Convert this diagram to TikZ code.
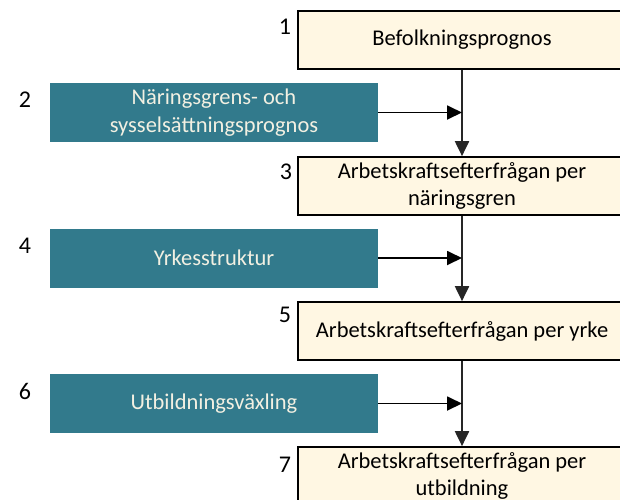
\documentclass[tikz,border=0pt]{standalone}
\usepackage{fontspec}
\setmainfont{Carlito}
\usetikzlibrary{arrows.meta}
\definecolor{teal1}{HTML}{327A8C}
\definecolor{cream}{HTML}{FFF7E3}
\definecolor{paletext}{HTML}{F2F0E2}
\begin{document}
\begin{tikzpicture}[x=1pt,y=-1pt,
  every node/.style={font=\fontsize{22.5}{27.5}\selectfont},
  creambox/.style={draw=black,line width=1.7pt,fill=cream,minimum width=328pt,minimum height=58pt,align=center,inner sep=0pt},
  tealbox/.style={fill=teal1,text=paletext,minimum width=328pt,minimum height=59pt,align=center,inner sep=0pt},
  numlabel/.style={inner sep=0pt,font=\fontsize{24}{28}\selectfont},
  flow/.style={line width=2pt,draw=black!85,-{Triangle[length=15pt,width=14pt]}},
  feed/.style={line width=1.8pt,-{Triangle[length=15pt,width=14pt]}}]
\useasboundingbox (0,0) rectangle (620,499);
\begin{scope}
\clip (0,0) rectangle (620,499);
\node[creambox] (b1) at (462,40) {Befolkningsprognos};
\node[tealbox] (b2) at (214,112.5) {Näringsgrens- och\\sysselsättningsprognos};
\node[creambox] (b3) at (462,186) {Arbetskraftsefterfrågan per\\näringsgren};
\node[tealbox] (b4) at (214,258) {Yrkesstruktur};
\node[creambox] (b5) at (462,331) {Arbetskraftsefterfrågan per yrke};
\node[tealbox] (b6) at (214,403.5) {Utbildningsväxling};
\node[creambox] (b7) at (462,476) {Arbetskraftsefterfrågan per\\utbildning};
\end{scope}
\node[numlabel] (n1) at (285,27) {1};
\node[numlabel] (n2) at (25,100) {2};
\node[numlabel] (n3) at (286,172) {3};
\node[numlabel] (n4) at (25,246) {4};
\node[numlabel] (n5) at (285,315) {5};
\node[numlabel] (n6) at (25,391) {6};
\node[numlabel] (n7) at (285,465) {7};
\coordinate (j2) at (b2.east -| b1.south);
\coordinate (j4) at (b4.east -| b1.south);
\coordinate (j6) at (b6.east -| b1.south);
\draw[flow] (b1.south) -- (b3.north);
\draw[flow] (b3.south) -- (b5.north);
\draw[flow] (b5.south) -- (b7.north);
\draw[feed] (b2.east) -- (j2);
\draw[feed] (b4.east) -- (j4);
\draw[feed] (b6.east) -- (j6);
\end{tikzpicture}
\end{document}
